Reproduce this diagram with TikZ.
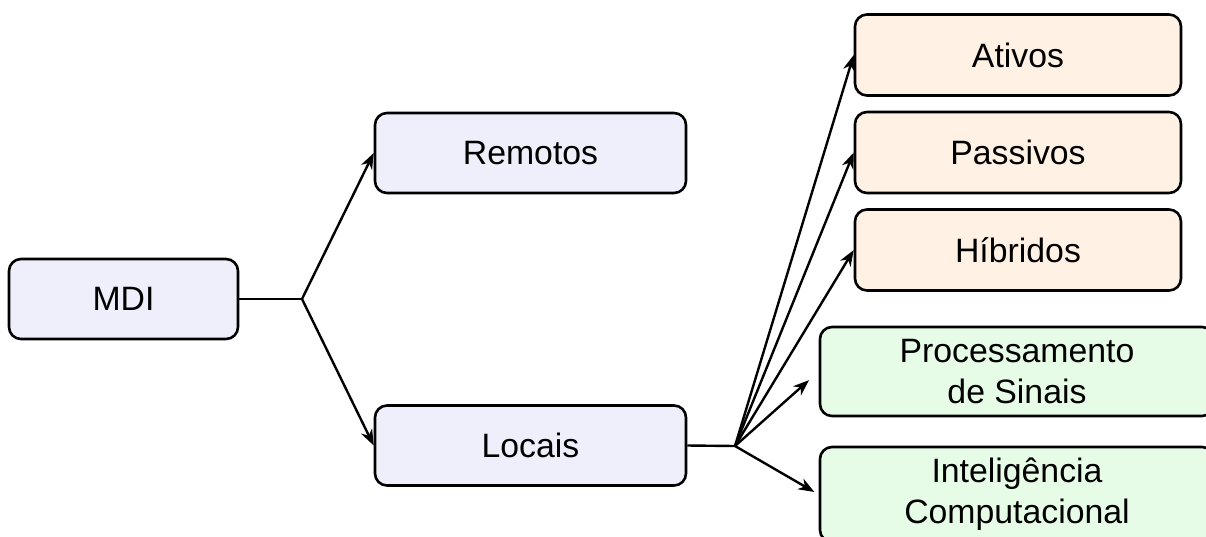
\documentclass[tikz,border=0pt]{standalone}
\usepackage{fontspec}
\setmainfont{Liberation Sans}
\usetikzlibrary{arrows.meta}
\definecolor{boxblue}{HTML}{EFEFFB}
\definecolor{boxorange}{HTML}{FFF1E4}
\definecolor{boxgreen}{HTML}{E6FCE6}
\tikzset{
  box/.style={draw=black, line width=2.6pt, rounded corners=12pt, align=center,
    font=\fontsize{33.8}{41}\selectfont, inner sep=0pt},
  bluebox/.style={box, fill=boxblue, minimum height=80pt},
  orangebox/.style={box, fill=boxorange, minimum width=326pt, minimum height=81pt},
  greenbox/.style={box, fill=boxgreen, minimum width=394pt},
  link/.style={line width=2.4pt},
  arrowlink/.style={link, -{Stealth[length=16pt, width=12pt, inset=5pt]}},
}
\begin{document}
\begin{tikzpicture}[x=1pt, y=-1pt]
\useasboundingbox (0,0) rectangle (1206,536);
% first level
\node[bluebox, minimum width=229pt] (mdi) at (123.5,299) {MDI};
\node[bluebox, minimum width=311pt] (rem) at (530.5,153) {Remotos};
\node[bluebox, minimum width=311pt] (loc) at (530.5,445.5) {Locais};
% second level
\node[orangebox] (ati) at (1018,55) {Ativos};
\node[orangebox] (pas) at (1018,152.5) {Passivos};
\node[orangebox] (hib) at (1018,250) {Híbridos};
\node[greenbox, minimum height=89pt] (pro) at (1017,371.5) {Processamento\\de Sinais};
\node[greenbox, minimum height=95pt] (int) at (1017,494.5) {Inteligência\\Computacional};
% branch points
\coordinate (j1) at (302,299);
\coordinate (j2) at (735,446);
\draw[link] (mdi.east) -- (j1);
\draw[arrowlink] (j1) -- (rem.west);
\draw[arrowlink] (j1) -- (loc.west);
\draw[link] (loc.east) -- (j2);
\draw[arrowlink] (j2) -- (ati.west);
\draw[arrowlink] (j2) -- (pas.west);
\draw[arrowlink] (j2) -- (hib.west);
\draw[arrowlink, shorten >=13pt] (j2) -- (pro.west);
\draw[arrowlink, shorten >=5pt] (j2) -- (int.west);
\end{tikzpicture}
\end{document}
